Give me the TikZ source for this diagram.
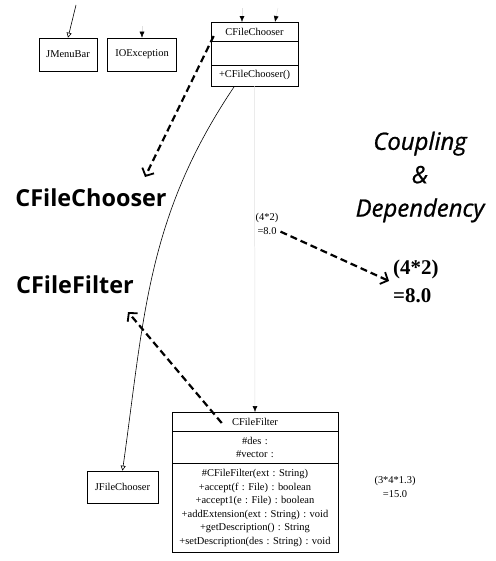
\documentclass[tikz,border=0pt]{standalone}
\usepackage{fontspec}
\setmainfont{Liberation Serif}
\newfontfamily\headfont{Open Sans}
\newfontfamily\titlefont[FakeBold=0.9]{Open Sans}
\frenchspacing
\usetikzlibrary{decorations,arrows,arrows.meta,shapes}

\tikzset{
  umltext/.style={font=\fontsize{10.5}{13.5}\selectfont},
  umlclass/.style={draw,umltext,rectangle split,rectangle split parts=#1,align=center,inner xsep=3bp,inner ysep=5.5bp,line width=0.6pt},
  umlref/.style={draw,umltext,minimum height=33bp,inner sep=2bp,line width=0.6pt},
  faintline/.style={black!12,line width=0.5pt},
  deparrow/.style={line width=2.2bp,dash pattern=on 7bp off 4bp,-{Straight Barb[length=6bp,width=13bp,line width=1.8bp]}},
  bigname/.style={font=\headfont\bfseries\fontsize{23.5}{27}\selectfont,inner sep=0pt},
}

\begin{document}
\begin{tikzpicture}
\useasboundingbox (0bp,0bp) rectangle (496bp,-561bp);

% classes
\node (JMB) at (68bp,-54.5bp)[umlref,minimum width=58bp] {JMenuBar};
\node (IOE) at (142bp,-54.5bp)[umlref,minimum width=69bp] {IOException};
\node (CFC) at (254.5bp,-22bp)[umlclass=3,anchor=north,text width=81bp] {CFileChooser \nodepart{two} \rule{0pt}{12pt} \nodepart{three} +CFileChooser()};
\node (JFC) at (122.5bp,-487bp)[umlref,minimum width=71bp,minimum height=32bp] {JFileChooser};
\node (CFF) at (255bp,-412bp)[umlclass=3,anchor=north,text width=160bp] {CFileFilter \nodepart{two} \#des :\\ \#vector : \nodepart{three} \#CFileFilter(ext : String)\\ +accept(f : File) : boolean\\ +accept1(e : File) : boolean\\ +addExtension(ext : String) : void\\ +getDescription() : String\\ +setDescription(des : String) : void};

% labels
\node (lblCFC) at (91bp,-198bp)[bigname] {CFileChooser};
\node (lblCFF) at (75bp,-285bp)[bigname] {CFileFilter};
\node (title) at (420bp,-177bp)[font=\titlefont\itshape\fontsize{24}{33.5}\selectfont,align=center,inner sep=0pt] {Coupling\\\&\\Dependency};
\node (calcsmall) at (267bp,-224bp)[umltext,align=center,inner sep=0pt] {(4*2)\\=8.0};
\node (calcbig) at (393bp,-281bp)[anchor=west,align=left,inner sep=0pt,font=\bfseries\fontsize{21}{28}\selectfont] {(4*2)\\=8.0};
\node (calcfilter) at (395bp,-487bp)[umltext,align=center,inner sep=0pt] {(3*4*1.3)\\=15.0};

% free ends
\coordinate (jmbin) at (76bp,-5bp);
\coordinate (ioein) at (142bp,-26bp);
\coordinate (cfcinA) at (242bp,-8bp);
\coordinate (cfcinB) at (278bp,-8bp);
\coordinate (tipCFC) at (145bp,-177bp);
\coordinate (tipCFF) at (128bp,-312bp);

% connectors
\draw [line width=0.6pt,-{Triangle[open,length=5bp,width=5bp]}] (jmbin) to (JMB.north);
\draw [faintline,-{Latex[black,length=6bp,width=5bp]}] (ioein) to (IOE.north);
\draw [faintline,-{Latex[black,length=6bp,width=5bp]}] (cfcinA) to (cfcinA |- CFC.north);
\draw [faintline,-{Latex[black,length=6bp,width=5bp]}] (cfcinB) to ([xshift=275bp-254.5bp]CFC.north);
\draw [line width=0.6pt,-{Triangle[open,length=5bp,width=5bp]}] ([xshift=-20bp]CFC.south) to[out=-124,in=82] (JFC.north);
\draw [faintline,-{Latex[black,length=6bp,width=5bp]}] (CFC.south) to (CFF.north);
\draw [deparrow] ([shift={(3bp,-14bp)}]CFC.north west) to (tipCFC);
\draw [deparrow] ([shift={(50bp,-11bp)}]CFF.north west) to (tipCFF);
\draw [deparrow] ([shift={(2bp,3bp)}]calcsmall.south east) to ([xshift=-4bp]calcbig.west);
\end{tikzpicture}
\end{document}
